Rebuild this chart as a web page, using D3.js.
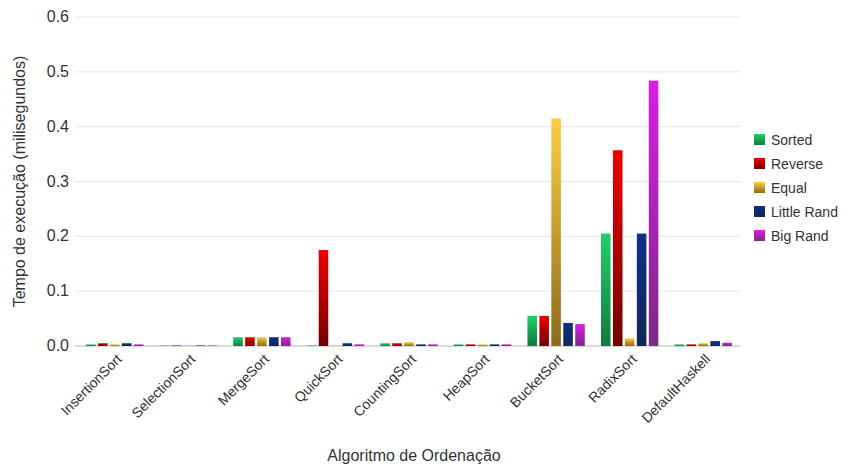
<!DOCTYPE html>
<html><head><meta charset="utf-8">
<script src="https://cdn.jsdelivr.net/npm/d3@7"></script>
<style>body{margin:0;background:#fff}text{font-family:"Liberation Sans",Arial,sans-serif}</style>
</head><body>
<script>
const categories = ["InsertionSort","SelectionSort","MergeSort","QuickSort","CountingSort","HeapSort","BucketSort","RadixSort","DefaultHaskell"];
const seriesNames = ["Sorted","Reverse","Equal","Little Rand","Big Rand"];
const sorted     = [0.003,0.001,0.016,0.001,0.005,0.003,0.055,0.205,0.003];
const reverse    = [0.005,0.001,0.016,0.175,0.005,0.003,0.055,0.357,0.003];
const equal      = [0.003,0.001,0.016,0.001,0.007,0.003,0.415,0.014,0.005];
const littleRand = [0.005,0.001,0.016,0.005,0.003,0.003,0.042,0.205,0.009];
const bigRand    = [0.003,0.001,0.016,0.003,0.003,0.003,0.040,0.484,0.006];
const yTicks = [0,0.1,0.2,0.3,0.4,0.5,0.6];
const series = [sorted,reverse,equal,littleRand,bigRand];
const colors = [["#1fd06e","#137a3e"],["#ee0000","#720000"],["#fdcd40","#8a6a1e"],["#0d308a","#122858"],["#dc1ce6","#7c2a88"]];

const W=867,H=472, m={left:75,right:127,top:17,bottom:126};
const svg=d3.select("body").append("svg").attr("width",W).attr("height",H);
const defs=svg.append("defs");
colors.forEach((c,i)=>{
  const g=defs.append("linearGradient").attr("id","g"+i).attr("x1",0).attr("x2",0).attr("y1",0).attr("y2",1);
  g.append("stop").attr("offset","0%").attr("stop-color",c[0]);
  g.append("stop").attr("offset","100%").attr("stop-color",c[1]);
});
const x=d3.scaleBand().domain(categories).range([m.left+3,W-m.right]).paddingInner(0.22).paddingOuter(0.11);
const xi=d3.scaleBand().domain(d3.range(5)).range([0,x.bandwidth()]).paddingInner(0.2);
const y=d3.scaleLinear().domain([0,0.6]).range([H-m.bottom,m.top]);

svg.append("g").selectAll("line").data(yTicks).join("line")
  .attr("x1",m.left).attr("x2",W-m.right).attr("y1",d=>y(d)).attr("y2",d=>y(d))
  .attr("stroke",d=>d===0?"#d9d9d9":"#e6e6e6").attr("stroke-width",d=>d===0?2:1);

svg.append("g").selectAll("text").data(yTicks).join("text")
  .attr("x",m.left-6).attr("y",d=>y(d)+5).attr("text-anchor","end")
  .attr("font-size",16).attr("fill","#333").text(d=>d3.format(".1f")(d));

series.forEach((s,i)=>{
  svg.append("g").selectAll("rect").data(categories).join("rect")
    .attr("x",(c)=>x(c)+xi(i)).attr("width",xi.bandwidth())
    .attr("y",(c,j)=>y(s[j])).attr("height",(c,j)=>y(0)-y(s[j]))
    .attr("fill","url(#g"+i+")");
});

svg.append("g").selectAll("text").data(categories).join("text")
  .attr("transform",c=>`translate(${x(c)+x.bandwidth()/2+8},${y(0)+14}) rotate(-45)`)
  .attr("text-anchor","end").attr("font-size",14).attr("fill","#333").text(c=>c);

svg.append("text").attr("x",414).attr("y",H-11).attr("text-anchor","middle")
  .attr("font-size",16).attr("fill","#333").text("Algoritmo de Ordenação");
svg.append("text").attr("transform",`translate(25,${(m.top+H-m.bottom)/2}) rotate(-90)`)
  .attr("text-anchor","middle").attr("font-size",16).attr("fill","#333").text("Tempo de execução (milisegundos)");

const lg=svg.append("g").attr("transform","translate(754,140)");
seriesNames.forEach((n,i)=>{
  lg.append("rect").attr("x",0).attr("y",i*24-6).attr("width",11).attr("height",11).attr("fill","url(#g"+i+")");
  lg.append("text").attr("x",17).attr("y",i*24+5).attr("font-size",14).attr("fill","#333").text(n);
});
</script>
</body></html>
